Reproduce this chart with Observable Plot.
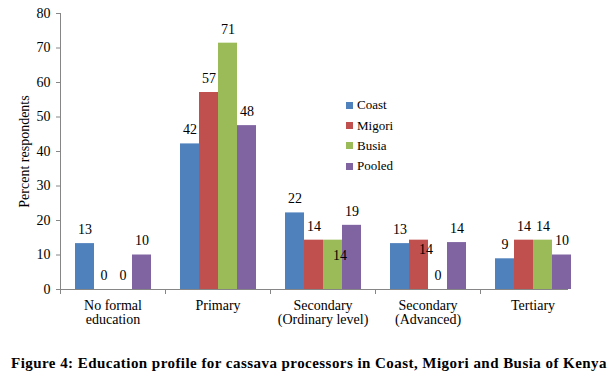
<!DOCTYPE html>
<html>
<head>
<meta charset="utf-8">
<script src="https://cdn.jsdelivr.net/npm/d3@7"></script>
<script src="https://cdn.jsdelivr.net/npm/@observablehq/plot@0.6"></script>
<style>
  html, body { margin: 0; padding: 0; background: #fff; }
  #wrap { position: relative; width: 612px; height: 381px; font-family: 'Liberation Serif'; }
  #legend { position: absolute; left: 346px; top: 95px; font-size: 13px; color: #000; font-family: 'Liberation Serif'; }
  .row { display: flex; align-items: center; height: 20.4px; }
  .sw { width: 7px; height: 7px; margin-right: 4px; }
  #caption { position: absolute; left: 3px; width: 612px; top: 353px; text-align: center; font-weight: bold; font-size: 15px; letter-spacing: 0.45px; line-height: 20px; color: #000; white-space: nowrap; font-family: 'Liberation Serif'; }
  svg text { font-family: 'Liberation Serif'; }
</style>
</head>
<body>
<div id="wrap">
  <div id="chart"></div>
  <div id="legend"></div>
  <div id="caption">Figure 4: Education profile for cassava processors in Coast, Migori and Busia of Kenya</div>
</div>
<script>
const categories = ["No formal education", "Primary", "Secondary (Ordinary level)", "Secondary (Advanced)", "Tertiary"];
const tickLabels = ["No formal\neducation", "Primary", "Secondary\n(Ordinary level)", "Secondary\n(Advanced)", "Tertiary"];
const series = ["Coast", "Migori", "Busia", "Pooled"];
const coast  = [13.3, 42.2, 22.2, 13.3, 8.9];
const migori = [0, 57.1, 14.3, 14.3, 14.3];
const busia  = [0, 71.4, 14.3, 0, 14.3];
const pooled = [10.0, 47.5, 18.6, 13.6, 10.0];
const yTicks = [0, 10, 20, 30, 40, 50, 60, 70, 80];
const colors = ["#4F81BD", "#C0504D", "#9BBB59", "#8064A2"];

const seriesValues = [coast, migori, busia, pooled];
const rows = [];
categories.forEach((cat, i) => {
  series.forEach((s, j) => rows.push({cat, series: s, value: seriesValues[j][i]}));
});

// labels that sit off their usual place in the original
const isShifted = d =>
  (d.cat === "Secondary (Ordinary level)" && d.series === "Busia") ||
  (d.cat === "Secondary (Advanced)" && d.series === "Migori");
const normal = rows.filter(d => !isShifted(d));
const shiftA = rows.filter(d => d.cat === "Secondary (Ordinary level)" && d.series === "Busia");
const shiftB = rows.filter(d => d.cat === "Secondary (Advanced)" && d.series === "Migori");
const lab = d => String(Math.round(d.value));
const axisGray = "#868686";
const lastCat = categories[categories.length - 1];

const chart = Plot.plot({
  width: 612,
  height: 335,
  marginTop: 13,
  marginBottom: 46,
  marginLeft: 60,
  marginRight: 27,
  style: {fontFamily: "'Liberation Serif'", fontSize: "14px", color: "#000", background: "#fff"},
  fx: {domain: categories, padding: 0},
  x: {domain: series, paddingInner: 0, paddingOuter: 0.76, axis: null},
  y: {domain: [0, 80]},
  color: {domain: series, range: colors},
  marks: [
    Plot.barY(rows, {fx: "cat", x: "series", y: "value", fill: "series"}),
    Plot.ruleY(categories.filter(c => c !== lastCat).map(c => ({cat: c})), {fx: "cat", y: () => 0, stroke: axisGray}),
    Plot.ruleY([{cat: lastCat}], {fx: "cat", y: () => 0, stroke: axisGray, insetRight: 17}),
    Plot.frame({anchor: "left", insetTop: 276, insetBottom: -4, stroke: axisGray}),
    Plot.frame({anchor: "left", facetAnchor: "left", stroke: axisGray}),
    Plot.axisY({ticks: yTicks, tickSize: 4, tickPadding: 6, stroke: axisGray, fill: "#000", fontSize: 14,
      label: "Percent respondents", labelAnchor: "center", labelArrow: "none", labelOffset: 41}),
    Plot.axisFx({anchor: "bottom", tickSize: 0, tickPadding: 10, label: null, fontSize: 14, lineHeight: 1.02,
      tickFormat: c => tickLabels[categories.indexOf(c)]}),
    Plot.text(normal, {fx: "cat", x: "series", y: "value", text: lab, dy: -14, fontSize: 14, fill: "#000"}),
    Plot.text(shiftA, {fx: "cat", x: "series", y: "value", text: lab, dy: 15, dx: 7, fontSize: 14, fill: "#000"}),
    Plot.text(shiftB, {fx: "cat", x: "series", y: "value", text: lab, dy: 9, dx: 7, fontSize: 14, fill: "#000"})
  ]
});
document.getElementById("chart").appendChild(chart);

const legend = document.getElementById("legend");
series.forEach((s, j) => {
  const r = document.createElement("div");
  r.className = "row";
  const sw = document.createElement("span");
  sw.className = "sw";
  sw.style.background = colors[j];
  const t = document.createElement("span");
  t.textContent = s;
  r.appendChild(sw);
  r.appendChild(t);
  legend.appendChild(r);
});
</script>
</body>
</html>
